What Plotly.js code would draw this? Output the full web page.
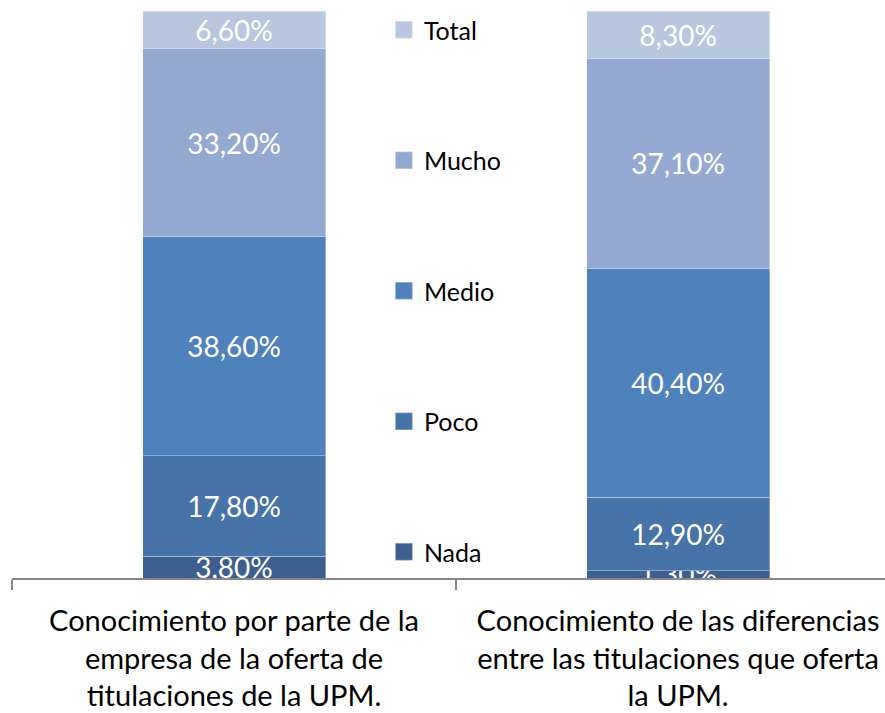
<!DOCTYPE html>
<html>
<head>
<meta charset="utf-8">
<script src="https://cdn.plot.ly/plotly-3.0.1.min.js"></script>
<style>html,body{margin:0;padding:0;background:#fff;}#chart{width:885px;height:713px;}</style>
</head>
<body>
<div id="chart"></div>
<script>
const categories = [
  "Conocimiento por parte de la<br>empresa de la oferta de<br>titulaciones de la UPM.",
  "Conocimiento de las diferencias<br>entre las titulaciones que oferta<br>la UPM."
];
const seriesNames = ["Nada", "Poco", "Medio", "Mucho", "Total"];
const nada  = [3.8, 1.3];
const poco  = [17.8, 12.9];
const medio = [38.6, 40.4];
const mucho = [33.2, 37.1];
const total = [6.6, 8.3];
const seriesValues = [nada, poco, medio, mucho, total];
const colors = ["#3C5F8F", "#4673A8", "#4F81BD", "#94A9D1", "#B9C6E0"];

const FONT = "Lato, 'Open Sans', sans-serif";

const traces = seriesNames.map((name, i) => ({
  type: "bar",
  name: name,
  x: categories,
  y: seriesValues[i],
  legendgroup: name,
  legendrank: 5 - i,
  marker: { color: colors[i], line: { color: "rgba(255,255,255,0.35)", width: 1 } },
  texttemplate: "%{y:.2f}%",
  textposition: "inside",
  insidetextanchor: "middle",
  textangle: 0,
  constraintext: "none",
  textfont: { family: FONT, size: 28, color: "#ffffff" },
  hoverinfo: "skip"
}));

const layout = {
  width: 885,
  height: 713,
  margin: { l: 12, r: 0, t: 11, b: 135 },
  barmode: "stack",
  bargap: 0.588,
  separators: ",.",
  paper_bgcolor: "#ffffff",
  plot_bgcolor: "#ffffff",
  uniformtext: { minsize: 28, mode: "show" },
  showlegend: true,
  legend: {
    x: 0.426, y: 1.007, xanchor: "left", yanchor: "top",
    traceorder: "grouped",
    tracegroupgap: 95,
    maxheight: 700,
    font: { family: FONT, size: 25, color: "#000000" },
    bgcolor: "rgba(0,0,0,0)"
  },
  xaxis: {
    type: "category",
    range: [-0.5, 1.466],
    showline: true, linecolor: "#868686", linewidth: 2,
    ticks: "outside", tickson: "boundaries", ticklen: 10, tickcolor: "#868686", tickwidth: 2,
    ticklabelstandoff: 16,
    tickfont: { family: FONT, size: 29, color: "#000000" },
    showgrid: false, zeroline: false, fixedrange: true
  },
  yaxis: {
    range: [0, 100],
    visible: false, showgrid: false, zeroline: false, fixedrange: true
  }
};

Plotly.newPlot("chart", traces, layout, { staticPlot: true, displayModeBar: false }).then(function (gd) {
  gd.querySelectorAll(".legend .legendpoints path").forEach(function (p) {
    const t = p.getAttribute("transform") || "";
    p.setAttribute("transform", t + " scale(1.45)");
  });
});
</script>
</body>
</html>
